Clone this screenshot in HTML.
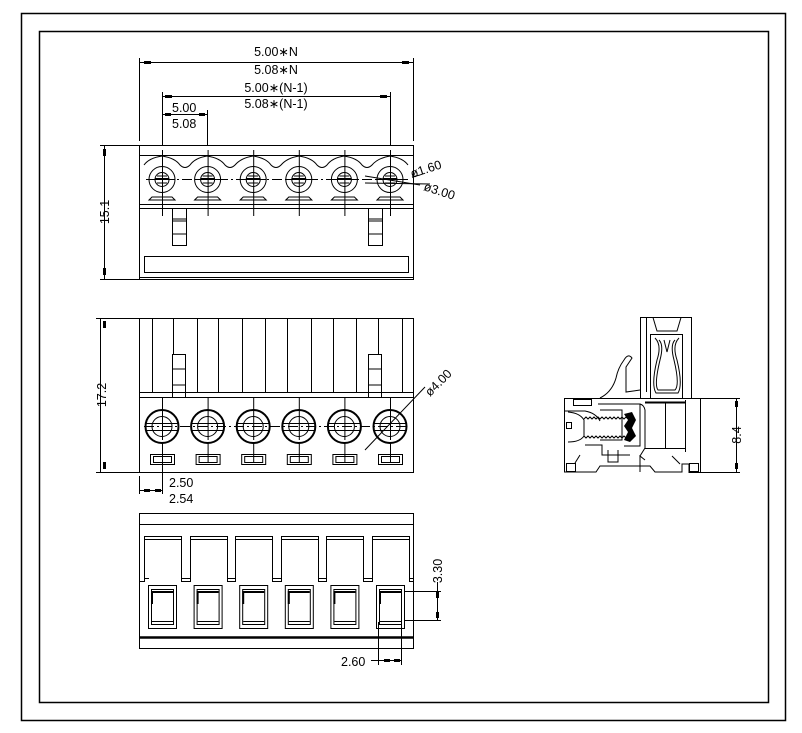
<!DOCTYPE html>
<html><head><meta charset="utf-8"><style>
html,body{margin:0;padding:0;background:#fff;}
svg{display:block;}
text{font-family:"Liberation Sans",sans-serif;font-size:12.5px;fill:#000;}
</style></head><body>
<svg width="802" height="733" viewBox="0 0 802 733" xmlns="http://www.w3.org/2000/svg">
<g fill="none" stroke="#000" stroke-width="1">
<rect x="21.5" y="13.5" width="764" height="707" stroke-width="1.5"/>
<rect x="39.5" y="31.5" width="729" height="671" stroke-width="1.5"/>

<!-- TOP VIEW -->
<rect x="139.5" y="145.5" width="274" height="134"/>
<line x1="139" y1="155.5" x2="413" y2="155.5"/>
<line x1="139" y1="204.5" x2="413" y2="204.5"/>
<line x1="139" y1="208.5" x2="413" y2="208.5"/>
<line x1="139" y1="277.5" x2="413" y2="277.5"/>
<rect x="144.5" y="256.5" width="264" height="16"/>
<path d="M144,165 Q149,158 162,156 Q175,158 180,165 Q185,170 190,165 Q195,158 207,156 Q220,158 225,165 Q230,170 235,165 Q241,158 253,156 Q266,158 271,165 Q276,170 281,165 Q287,158 299,156 Q312,158 317,165 Q322,170 327,165 Q332,158 344,156 Q357,158 362,165 Q367,170 372,165 Q378,158 390,156 Q403,158 408,165"/>
<line x1="146" y1="179.5" x2="408" y2="179.5" stroke-dasharray="10,3,2,3"/>
<rect x="172.5" y="208.5" width="14" height="37"/><line x1="172" y1="219" x2="186" y2="219"/><line x1="172" y1="221" x2="186" y2="221"/><line x1="172" y1="234" x2="186" y2="234"/>
<rect x="368.5" y="208.5" width="14" height="37"/><line x1="368" y1="219" x2="382" y2="219"/><line x1="368" y1="221" x2="382" y2="221"/><line x1="368" y1="234" x2="382" y2="234"/>
<g id="th">
<circle cx="162" cy="179.5" r="13"/><circle cx="162" cy="179.5" r="7"/>
<line x1="157" y1="176" x2="167" y2="176"/><line x1="155" y1="179" x2="169" y2="179" stroke-width="2"/><line x1="157" y1="183" x2="167" y2="183"/>
<line x1="162.5" y1="150" x2="162.5" y2="216"/><line x1="149" y1="179.5" x2="175" y2="179.5"/>
<path d="M149,200 L152,197 L172,197 L175,200 Z"/>
</g>
<use href="#th" x="45.6"/><use href="#th" x="91.2"/><use href="#th" x="136.8"/><use href="#th" x="182.4"/><use href="#th" x="228"/>
<line x1="139.5" y1="58" x2="139.5" y2="141"/><line x1="413.5" y1="58" x2="413.5" y2="141"/>
<line x1="139" y1="62.5" x2="413" y2="62.5"/>
<line x1="162.5" y1="92" x2="162.5" y2="145"/><line x1="390.5" y1="92" x2="390.5" y2="145"/>
<line x1="162" y1="96.5" x2="390" y2="96.5"/>
<line x1="207.5" y1="110" x2="207.5" y2="145"/>
<line x1="162" y1="114.5" x2="207" y2="114.5"/>
<line x1="100" y1="145.5" x2="139" y2="145.5"/><line x1="100" y1="279.5" x2="139" y2="279.5"/>
<line x1="104.5" y1="145" x2="104.5" y2="279"/>
<line x1="365" y1="176" x2="420" y2="185"/><line x1="365" y1="183" x2="430" y2="184"/>
<line x1="412" y1="177" x2="420" y2="175"/>
</g>
<g fill="#000">
<rect x="144" y="61" width="7" height="3"/><rect x="402" y="61" width="7" height="3"/>
<rect x="165" y="95" width="7" height="3"/><rect x="380" y="95" width="7" height="3"/>
<rect x="165" y="113" width="6" height="3"/><rect x="199" y="113" width="6" height="3"/>
<rect x="103" y="149" width="3" height="7"/><rect x="103" y="268" width="3" height="7"/>
<rect x="103" y="321" width="3" height="7"/><rect x="103" y="462" width="3" height="7"/>
<rect x="144" y="489" width="6" height="3"/><rect x="155" y="489" width="6" height="3"/>
<rect x="436" y="592" width="3" height="6"/><rect x="436" y="612" width="3" height="6"/>
<rect x="384" y="659" width="6" height="3"/><rect x="394" y="659" width="6" height="3"/>
<rect x="735" y="401" width="3" height="6"/><rect x="735" y="463" width="3" height="6"/>
</g>
<text x="276" y="56" text-anchor="middle">5.00∗N</text>
<text x="276" y="74" text-anchor="middle">5.08∗N</text>
<text x="276" y="92" text-anchor="middle">5.00∗(N-1)</text>
<text x="276" y="108" text-anchor="middle">5.08∗(N-1)</text>
<text x="172" y="112">5.00</text>
<text x="172" y="128">5.08</text>
<text transform="translate(109,212) rotate(-90)" text-anchor="middle">15.1</text>
<text transform="translate(412,178) rotate(-18)">ø1.60</text>
<text transform="translate(423,190) rotate(18)">ø3.00</text>

<!-- MIDDLE VIEW -->
<g fill="none" stroke="#000" stroke-width="1">
<rect x="139.5" y="318.5" width="274" height="154"/>
<line x1="139" y1="392.5" x2="413" y2="392.5"/><line x1="139" y1="397.5" x2="413" y2="397.5"/>
<line x1="152.5" y1="318" x2="152.5" y2="392"/><line x1="173.5" y1="318" x2="173.5" y2="354"/><line x1="197.5" y1="318" x2="197.5" y2="392"/><line x1="218.5" y1="318" x2="218.5" y2="392"/><line x1="242.5" y1="318" x2="242.5" y2="392"/><line x1="265.5" y1="318" x2="265.5" y2="392"/><line x1="287.5" y1="318" x2="287.5" y2="392"/><line x1="311.5" y1="318" x2="311.5" y2="392"/><line x1="333.5" y1="318" x2="333.5" y2="392"/><line x1="356.5" y1="318" x2="356.5" y2="392"/><line x1="378.5" y1="318" x2="378.5" y2="354"/><line x1="402.5" y1="318" x2="402.5" y2="392"/>
<rect x="172.5" y="354.5" width="13" height="43"/><line x1="172" y1="369" x2="185" y2="369"/><line x1="172" y1="385" x2="185" y2="385"/>
<rect x="368.5" y="354.5" width="13" height="43"/><line x1="368" y1="369" x2="381" y2="369"/><line x1="368" y1="385" x2="381" y2="385"/>
<line x1="144" y1="426.5" x2="408" y2="426.5" stroke-dasharray="10,3,2,3"/>
<g id="mh">
<circle cx="162" cy="426.5" r="16.5" stroke-width="2"/><circle cx="162" cy="426.5" r="10"/>
<line x1="146" y1="423.5" x2="178" y2="423.5"/><line x1="146" y1="430.5" x2="178" y2="430.5"/>
<line x1="162.5" y1="398" x2="162.5" y2="440"/><line x1="162.5" y1="443" x2="162.5" y2="462"/>
<rect x="150.5" y="454.5" width="24" height="10"/><rect x="153.5" y="456.5" width="18" height="6"/>
</g>
<use href="#mh" x="45.6"/><use href="#mh" x="91.2"/><use href="#mh" x="136.8"/><use href="#mh" x="182.4"/><use href="#mh" x="228"/>
<line x1="365" y1="450" x2="425" y2="387"/>
<line x1="96" y1="318.5" x2="139" y2="318.5"/><line x1="96" y1="472.5" x2="139" y2="472.5"/>
<line x1="100.5" y1="318" x2="100.5" y2="472"/>
<line x1="139.5" y1="476" x2="139.5" y2="494"/><line x1="162.5" y1="462" x2="162.5" y2="494"/>
<line x1="139" y1="490.5" x2="162" y2="490.5"/>
</g>
<text transform="translate(106,395) rotate(-90)" text-anchor="middle">17.2</text>
<text transform="translate(430,397) rotate(-45)">ø4.00</text>
<text x="169" y="487">2.50</text>
<text x="169" y="503">2.54</text>

<!-- BOTTOM VIEW -->
<g fill="none" stroke="#000" stroke-width="1">
<rect x="139.5" y="513.5" width="274" height="135"/>
<line x1="139" y1="524.5" x2="413" y2="524.5"/>
<line x1="139" y1="637.5" x2="413" y2="637.5" stroke-width="2.5"/>
<path d="M139,581.5 H144.5 V536.5 H181.5 V581.5 H190.5 V536.5 H227.5 V581.5 H235.5 V536.5 H272.5 V581.5 H281.5 V536.5 H318.5 V581.5 H326.5 V536.5 H363.5 V581.5 H372.5 V536.5 H409.5 V581.5 H413"/>
<path d="M144,539.5 H181 M190,539.5 H227 M235,539.5 H272 M281,539.5 H318 M326,539.5 H363 M372,539.5 H409 M144,578.5 H149 M181,578.5 H190 M227,578.5 H235 M272,578.5 H281 M318,578.5 H326 M363,578.5 H372 M409,578.5 H413"/>
<g id="bw">
<rect x="148.5" y="585.5" width="28" height="43"/>
<rect x="151.5" y="589.5" width="22" height="35"/>
<line x1="152" y1="592" x2="173" y2="592" stroke-width="2"/><line x1="152" y1="591" x2="152" y2="604" stroke-width="2"/>
<line x1="152" y1="621.5" x2="173" y2="621.5"/>
</g>
<use href="#bw" x="45.6"/><use href="#bw" x="91.2"/><use href="#bw" x="136.8"/><use href="#bw" x="182.4"/><use href="#bw" x="228"/>
<line x1="405" y1="591.5" x2="441" y2="591.5"/><line x1="405" y1="620.5" x2="441" y2="620.5"/>
<line x1="437.5" y1="582" x2="437.5" y2="621"/>
<line x1="378.5" y1="622" x2="378.5" y2="665"/><line x1="401.5" y1="622" x2="401.5" y2="665"/>
<line x1="371" y1="660.5" x2="401" y2="660.5"/>
</g>
<text transform="translate(442,571) rotate(-90)" text-anchor="middle">3.30</text>
<text x="341" y="666">2.60</text>

<!-- SIDE VIEW -->
<g fill="none" stroke="#000" stroke-width="1">
<path d="M564.5,398.5 H700.5 V472.5 H689 V464 H682 V472 H655 L650,466 H600 L596,472 H564.5 Z"/>
<path d="M640.5,398 V317.5 H691.5 V398"/>
<line x1="646.5" y1="318" x2="646.5" y2="392"/>
<path d="M653,317.5 L657,331 H677 L681,317.5"/>
<rect x="650.5" y="334.5" width="32" height="64"/>
<path d="M659,340 Q664,345 660,360 Q654,385 658,390 H675 Q680,385 674,360 Q670,345 675,340"/>
<path d="M655,338 Q662,345 657,360 Q651,385 656,393 H678 Q683,385 677,360 Q672,345 679,338"/>
<path d="M664,340 L667,352 L670,340"/>
<path d="M600,398 Q612,392 616,378 Q618,368 624,360 Q628,353 632,358 L626,367 L626,392 L640,390"/>
<rect x="573.5" y="399.5" width="18" height="6"/>
<path d="M564.5,411 H585 Q596,413 600,421"/>
<path d="M568,412 Q580,413 584,420 L584,436 Q580,442 568,442"/>
<rect x="566.5" y="422.5" width="5" height="6"/>
<path d="M584,419 l2,-2 l2,2 l2,-2 l2,2 l2,-2 l2,2 l2,-2 l2,2 l2,-2 l2,2 l2,-2 l2,2 l2,-2 l2,2 l2,-2 l2,2 l2,-2 l2,2 l2,-2 l2,2 l2,-2 l2,2"/>
<path d="M584,436 l2,2 l2,-2 l2,2 l2,-2 l2,2 l2,-2 l2,2 l2,-2 l2,2 l2,-2 l2,2 l2,-2 l2,2 l2,-2 l2,2 l2,-2 l2,2 l2,-2 l2,2 l2,-2 l2,2 l2,-2 l2,2"/>
<path d="M585,445 H602 V455 H630"/>
<path d="M598,404 H640 V446 H624"/>
<path d="M600,410 H622 V440 H600"/>
<path d="M640,404 Q644,405 645,410 V448 L640,456 L645,460"/>
<line x1="645" y1="402.5" x2="685" y2="402.5" stroke-width="2"/>
<line x1="645" y1="448.5" x2="685" y2="448.5"/>
<line x1="665.5" y1="403" x2="665.5" y2="448"/>
<line x1="685.5" y1="400" x2="685.5" y2="452"/>
<rect x="566.5" y="463.5" width="9" height="8"/><rect x="689.5" y="463.5" width="9" height="8"/>
<path d="M575,463 L580,455 M608,450 V462 H618 V450 M640,455 V472 M672,456 L680,464"/>
<line x1="700" y1="398.5" x2="740" y2="398.5"/><line x1="700" y1="472.5" x2="740" y2="472.5"/>
<line x1="736.5" y1="398" x2="736.5" y2="472"/>
</g>
<path d="M624,414 L632,412 L636,420 L632,428 L636,436 L630,442 L624,440 L628,432 L624,426 L628,420 Z" fill="#000"/>
<text transform="translate(741,435) rotate(-90)" text-anchor="middle">8.4</text>
</svg>
</body></html>
